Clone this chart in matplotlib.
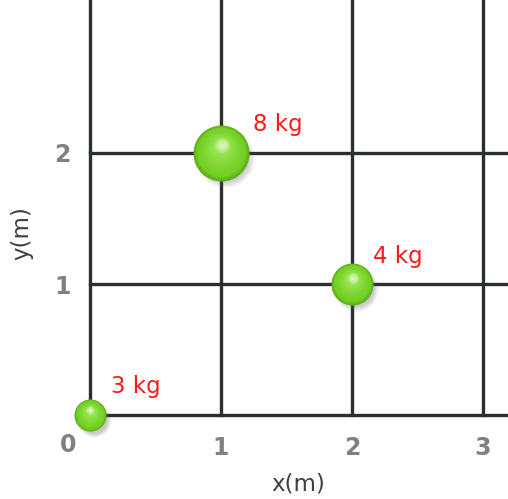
import numpy as np
import matplotlib.pyplot as plt
from matplotlib import transforms
from matplotlib.colors import to_rgb

# Dados: massas e posições (m)
masses = [3, 8, 4]
x_pos = [0, 1, 2]
y_pos = [0, 2, 1]
mass_labels = [f"{m} kg" for m in masses]

x_ticks = [1, 2, 3]
y_ticks = [1, 2]
x_label = "x(m)"
y_label = "y(m)"

# Aparência (pixels)
DPI = 100
ball_radius_px = [16, 28, 21]
label_offset_px = [(21, 29), (32, 29), (21, 28)]

PX2PT = 72.0 / DPI


def mix(c1, c2, t):
    a = np.array(to_rgb(c1))
    b = np.array(to_rgb(c2))
    return tuple(a + (b - a) * t)


def desenhar_esfera(ax, fig, x, y, r_px):
    """Esfera verde com degradê, brilho e sombra."""
    # sombra
    for k in range(8):
        t = k / 7
        off = transforms.ScaledTranslation(4 / DPI, -5 / DPI, fig.dpi_scale_trans)
        r = r_px * (1.05 - 0.25 * t)
        ax.scatter([x], [y], s=(2 * r * PX2PT) ** 2, color="#666666", alpha=0.05,
                   linewidths=0, transform=ax.transData + off, clip_on=False, zorder=4)

    # degradê
    n = 40
    for k in range(n):
        t = k / (n - 1)
        r = r_px * (1 - 0.9 * t)
        dy = 0.3 * r_px * t
        dx = 0.02 * r_px * t
        off = transforms.ScaledTranslation(dx / DPI, dy / DPI, fig.dpi_scale_trans)
        if t < 0.15:
            cor = mix("#5cac18", "#74d024", t / 0.15)
        else:
            cor = mix("#74d024", "#a6ee62", ((t - 0.15) / 0.85) ** 1.3)
        ax.scatter([x], [y], s=(2 * r * PX2PT) ** 2, color=cor, linewidths=0,
                   transform=ax.transData + off, clip_on=False, zorder=5)

    # brilho suave
    for k in range(8):
        t = k / 7
        r = r_px * (0.28 - 0.2 * t)
        off = transforms.ScaledTranslation(0.03 * r_px / DPI, 0.3 * r_px / DPI, fig.dpi_scale_trans)
        ax.scatter([x], [y], s=(2 * r * PX2PT) ** 2, color="white", alpha=0.1,
                   linewidths=0, transform=ax.transData + off, clip_on=False, zorder=6)


fig = plt.figure(figsize=(508 / DPI, 499 / DPI), dpi=DPI)
ax = fig.add_axes([90 / 508, 84 / 499, 418 / 508, 415 / 499])

unit_px = 131.0
ax.set_xlim(0, 418 / unit_px)
ax.set_ylim(0, 415 / unit_px)

for s in ax.spines.values():
    s.set_visible(False)

cor_linha = "#2a2f2f"
for xv in [0] + x_ticks:
    ax.axvline(xv, color=cor_linha, lw=2.4, clip_on=False, zorder=2)
for yv in [0] + y_ticks:
    ax.axhline(yv, color=cor_linha, lw=2.4, clip_on=False, zorder=2)

ax.set_xticks(x_ticks)
ax.set_xticklabels([str(v) for v in x_ticks])
ax.set_yticks(y_ticks)
ax.set_yticklabels([str(v) for v in y_ticks])
ax.tick_params(length=0, labelsize=17, labelcolor="#808080")
ax.tick_params(axis="x", pad=15)
ax.tick_params(axis="y", pad=14)
for lbl in ax.get_xticklabels() + ax.get_yticklabels():
    lbl.set_fontweight("bold")

# "0" no canto
ax.annotate("0", (0, 0), xytext=(-22 * PX2PT, -30 * PX2PT), textcoords="offset points",
            ha="center", va="center", fontsize=17, fontweight="bold", color="#808080",
            annotation_clip=False)

for x, y, r, lab, off in zip(x_pos, y_pos, ball_radius_px, mass_labels, label_offset_px):
    desenhar_esfera(ax, fig, x, y, r)
    ax.annotate(lab, (x, y), xytext=(off[0] * PX2PT, off[1] * PX2PT), textcoords="offset points",
                ha="left", va="center", fontsize=16.5, color="#ff1a1a", annotation_clip=False)

fig.text(298 / 508, 1 - 484 / 499, x_label, ha="center", va="center", fontsize=16.5, color="#404040")
fig.text(22 / 508, 1 - 233 / 499, y_label, ha="center", va="center", rotation=90,
         fontsize=16.5, color="#404040")

fig.savefig("out.png", dpi=DPI)
